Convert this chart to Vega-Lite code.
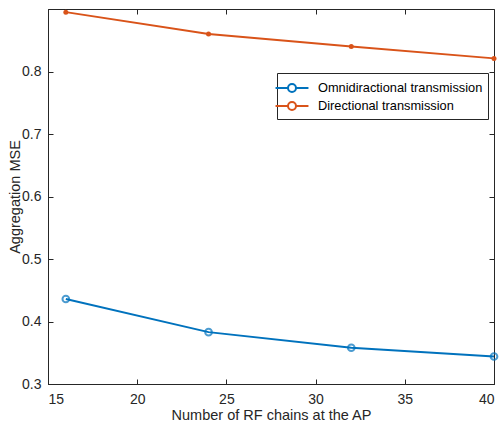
{
  "$schema": "https://vega.github.io/schema/vega-lite/v6.json",
  "autosize": "none",
  "padding": {"left": 48, "top": 9, "right": 5, "bottom": 41},
  "width": 446,
  "height": 375,
  "background": "white",
  "config": {
    "font": "Liberation Sans",
    "view": {"stroke": "#262626", "strokeWidth": 1},
    "axis": {
      "grid": false,
      "domainColor": "#262626",
      "tickColor": "#262626",
      "labelColor": "#262626",
      "titleColor": "#262626",
      "labelFontSize": 14,
      "titleFontSize": 14.5,
      "titleFontWeight": "normal",
      "labelFont": "Liberation Sans",
      "titleFont": "Liberation Sans",
      "tickSize": 5,
      "tickWidth": 1
    }
  },
  "data": {
    "values": [
      {"n": 16, "mse": 0.436, "series": "Omnidiractional transmission"},
      {"n": 24, "mse": 0.383, "series": "Omnidiractional transmission"},
      {"n": 32, "mse": 0.358, "series": "Omnidiractional transmission"},
      {"n": 40, "mse": 0.344, "series": "Omnidiractional transmission"},
      {"n": 16, "mse": 0.895, "series": "Directional transmission"},
      {"n": 24, "mse": 0.860, "series": "Directional transmission"},
      {"n": 32, "mse": 0.840, "series": "Directional transmission"},
      {"n": 40, "mse": 0.821, "series": "Directional transmission"}
    ]
  },
  "layer": [
    {
      "mark": {"type": "line", "strokeWidth": 2},
      "encoding": {
        "x": {"field": "n", "type": "quantitative", "scale": {"domain": [15, 40], "nice": false, "zero": false},
              "axis": {"orient": "bottom", "values": [15, 20, 25, 30, 35, 40], "ticks": false, "title": "Number of RF chains at the AP", "labelPadding": 8, "titlePadding": 2}},
        "y": {"field": "mse", "type": "quantitative", "scale": {"domain": [0.3, 0.9], "nice": false, "zero": false},
              "axis": {"orient": "left", "values": [0.3, 0.4, 0.5, 0.6, 0.7, 0.8], "ticks": false, "format": ".1f", "title": "Aggregation MSE", "labelPadding": 7, "titlePadding": -1}},
        "color": {"field": "series", "type": "nominal",
                  "scale": {"domain": ["Omnidiractional transmission", "Directional transmission"], "range": ["#0072BD", "#D95319"]},
                  "legend": {"title": null, "orient": "none", "legendX": 229, "legendY": 64,
                             "strokeColor": "#262626", "fillColor": "white", "padding": 5,
                             "labelFontSize": 12.8, "labelLimit": 300, "labelColor": "#000000", "labelFont": "Liberation Sans", "labelOffset": 16,
                             "symbolType": "M-1.9,0L-0.46,0M0.46,0L1.9,0M-0.46,0A0.46,0.46 0 1 1 0.46,0A0.46,0.46 0 1 1 -0.46,0",
                             "symbolSize": 300, "symbolStrokeWidth": 2, "symbolFillColor": "transparent", "rowPadding": -4}}
      }
    },
    {
      "transform": [{"filter": "datum.series === 'Omnidiractional transmission'"}],
      "mark": {"type": "point", "shape": "circle", "filled": false, "size": 45, "strokeWidth": 2, "color": "#0072BD"},
      "encoding": {
        "x": {"field": "n", "type": "quantitative", "axis": null},
        "y": {"field": "mse", "type": "quantitative", "axis": null}
      }
    },
    {
      "transform": [{"filter": "datum.series === 'Directional transmission'"}],
      "mark": {"type": "point", "shape": "circle", "filled": true, "size": 25, "opacity": 1, "color": "#D95319"},
      "encoding": {
        "x": {"field": "n", "type": "quantitative", "axis": null},
        "y": {"field": "mse", "type": "quantitative", "axis": null}
      }
    },
    {
      "mark": {"type": "point", "opacity": 0},
      "encoding": {
        "x": {"field": "n", "type": "quantitative", "axis": {"orient": "top", "offset": -375, "values": [15, 20, 25, 30, 35, 40], "labels": false, "title": null, "domain": false}},
        "y": {"field": "mse", "type": "quantitative", "axis": {"orient": "right", "offset": -446, "values": [0.3, 0.4, 0.5, 0.6, 0.7, 0.8], "labels": false, "title": null, "domain": false}}
      }
    },
    {
      "mark": {"type": "point", "opacity": 0},
      "encoding": {
        "x": {"field": "n", "type": "quantitative", "axis": {"orient": "bottom", "offset": -375, "values": [15, 20, 25, 30, 35, 40], "labels": false, "title": null, "domain": false}},
        "y": {"field": "mse", "type": "quantitative", "axis": {"orient": "left", "offset": -446, "values": [0.3, 0.4, 0.5, 0.6, 0.7, 0.8], "labels": false, "title": null, "domain": false}}
      }
    }
  ],
  "resolve": {"axis": {"x": "independent", "y": "independent"}}
}
